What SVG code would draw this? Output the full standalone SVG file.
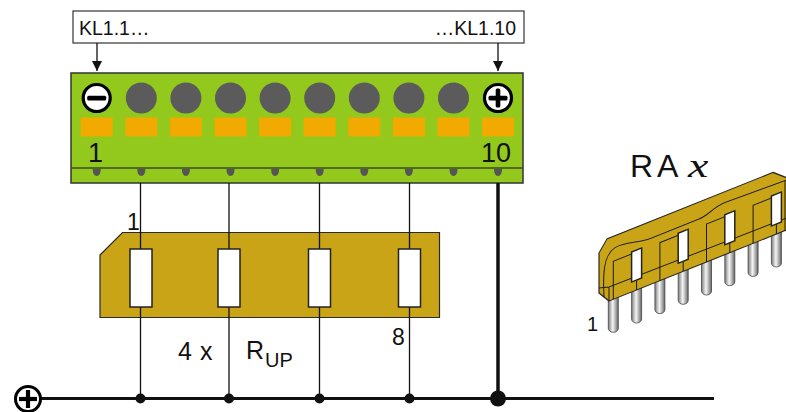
<svg xmlns="http://www.w3.org/2000/svg" width="786" height="412" viewBox="0 0 786 412">
  <style>
    .lbl { font-family: "Liberation Sans", Arial, sans-serif; fill: #111; }
    .wire { stroke: #111; stroke-width: 1.3; fill: none; }
    .hole { fill: #5b5b5b; }
    .spring { fill: #f2a900; }
    .drop { fill: #555; }
    .res { fill: #fff; stroke: #222; stroke-width: 1.5; }
    .gold { fill: #c8a416; stroke: #2a2a2a; stroke-width: 1.2; }
    .pin { fill: url(#pinGrad); stroke: #444; stroke-width: 0.8; }
    .thin { fill: none; stroke: #1a1a1a; stroke-width: 1; }
  </style>
  <defs>
    <marker id="arr" viewBox="0 0 10 10" refX="10" refY="5" markerWidth="10" markerHeight="10" markerUnits="userSpaceOnUse" orient="auto">
      <path d="M0,0 L10,5 L0,10 Z" fill="#111"/>
    </marker>
    <linearGradient id="pinGrad" x1="0" y1="0" x2="1" y2="0">
      <stop offset="0" stop-color="#7c7c7c"/>
      <stop offset="0.45" stop-color="#f6f6f6"/>
      <stop offset="1" stop-color="#666"/>
    </linearGradient>
  </defs>

  <!-- terminal designation label -->
  <g id="label-box">
    <rect x="73" y="11" width="451" height="32" fill="#fff" stroke="#333" stroke-width="1.2"/>
    <text class="lbl" x="79" y="35" font-size="19.5">KL1.1…</text>
    <text class="lbl" x="516" y="35" font-size="19.5" text-anchor="end">…KL1.10</text>
  </g>

  <!-- terminal block KL1 -->
  <g id="terminal-block">
    <rect x="71" y="73" width="452" height="110" fill="#93c91c" stroke="#333" stroke-width="1.5"/>
    <line x1="71" y1="168" x2="523" y2="168" stroke="#3b4a22" stroke-width="1.5"/>
    <!-- wire entry holes -->
    <circle class="hole" cx="141.3" cy="98" r="15.5"/>
    <circle class="hole" cx="185.9" cy="98" r="15.5"/>
    <circle class="hole" cx="230.5" cy="98" r="15.5"/>
    <circle class="hole" cx="275.1" cy="98" r="15.5"/>
    <circle class="hole" cx="319.7" cy="98" r="15.5"/>
    <circle class="hole" cx="364.3" cy="98" r="15.5"/>
    <circle class="hole" cx="408.9" cy="98" r="15.5"/>
    <circle class="hole" cx="453.5" cy="98" r="15.5"/>
    <!-- minus and plus terminals -->
    <circle cx="96.7" cy="98" r="13.5" fill="#fff" stroke="#000" stroke-width="3.2"/>
    <rect x="87.2" y="95.8" width="19" height="4.6" rx="1.5" fill="#000"/>
    <circle cx="498" cy="98" r="13.5" fill="#fff" stroke="#000" stroke-width="3.2"/>
    <rect x="488.5" y="95.8" width="19" height="4.6" rx="1.5" fill="#000"/>
    <rect x="495.7" y="88.5" width="4.6" height="19" rx="1.5" fill="#000"/>
    <!-- spring releases -->
    <rect class="spring" x="80.7" y="117.5" width="32" height="19"/>
    <rect class="spring" x="125.3" y="117.5" width="32" height="19"/>
    <rect class="spring" x="169.9" y="117.5" width="32" height="19"/>
    <rect class="spring" x="214.5" y="117.5" width="32" height="19"/>
    <rect class="spring" x="259.1" y="117.5" width="32" height="19"/>
    <rect class="spring" x="303.7" y="117.5" width="32" height="19"/>
    <rect class="spring" x="348.3" y="117.5" width="32" height="19"/>
    <rect class="spring" x="392.9" y="117.5" width="32" height="19"/>
    <rect class="spring" x="437.5" y="117.5" width="32" height="19"/>
    <rect class="spring" x="482" y="117.5" width="32" height="19"/>
    <text class="lbl" x="88" y="162" font-size="27">1</text>
    <text class="lbl" x="511" y="162" font-size="27" text-anchor="end">10</text>
    <!-- contact tips -->
    <path class="drop" d="M92.7,169 Q92.7,176 96.7,176 Q100.7,176 100.7,169 Z"/>
    <path class="drop" d="M137.3,169 Q137.3,176 141.3,176 Q145.3,176 145.3,169 Z"/>
    <path class="drop" d="M181.9,169 Q181.9,176 185.9,176 Q189.9,176 189.9,169 Z"/>
    <path class="drop" d="M226.5,169 Q226.5,176 230.5,176 Q234.5,176 234.5,169 Z"/>
    <path class="drop" d="M271.1,169 Q271.1,176 275.1,176 Q279.1,176 279.1,169 Z"/>
    <path class="drop" d="M315.7,169 Q315.7,176 319.7,176 Q323.7,176 323.7,169 Z"/>
    <path class="drop" d="M360.3,169 Q360.3,176 364.3,176 Q368.3,176 368.3,169 Z"/>
    <path class="drop" d="M404.9,169 Q404.9,176 408.9,176 Q412.9,176 412.9,169 Z"/>
    <path class="drop" d="M449.5,169 Q449.5,176 453.5,176 Q457.5,176 457.5,169 Z"/>
    <path class="drop" d="M494,169 Q494,176 498,176 Q502,176 502,169 Z"/>
  </g>

  <!-- pull-up resistor network, schematic view -->
  <g id="resistor-network">
    <path class="gold" d="M100,255 L122.5,232.5 L439.5,232.5 L439.5,317.5 L100,317.5 Z"/>
  </g>

  <!-- connectors -->
  <g id="connectors">
    <line x1="97" y1="43" x2="97" y2="71" stroke="#111" stroke-width="1.3" marker-end="url(#arr)"/>
    <line x1="498" y1="43" x2="498" y2="71" stroke="#111" stroke-width="1.3" marker-end="url(#arr)"/>
    <line class="wire" x1="140.5" y1="183" x2="140.5" y2="398"/>
    <line class="wire" x1="229" y1="183" x2="229" y2="398"/>
    <line class="wire" x1="319.5" y1="183" x2="319.5" y2="398"/>
    <line class="wire" x1="409.5" y1="183" x2="409.5" y2="398"/>
    <line x1="498" y1="183" x2="498" y2="398" stroke="#111" stroke-width="3.5"/>
    <line x1="41" y1="398.5" x2="714" y2="398.5" stroke="#111" stroke-width="3.2"/>
    <circle cx="140.5" cy="398.5" r="5" fill="#111"/>
    <circle cx="229" cy="398.5" r="5" fill="#111"/>
    <circle cx="319.5" cy="398.5" r="5" fill="#111"/>
    <circle cx="409.5" cy="398.5" r="5" fill="#111"/>
    <circle cx="498" cy="398.5" r="8" fill="#111"/>
  </g>

  <g id="resistors">
    <rect class="res" x="130" y="249" width="22" height="58"/>
    <rect class="res" x="218" y="249" width="22" height="58"/>
    <rect class="res" x="308.5" y="249" width="22" height="58"/>
    <rect class="res" x="398.5" y="249" width="22" height="58"/>
    <text class="lbl" x="127" y="230" font-size="23">1</text>
    <text class="lbl" x="392" y="345" font-size="23">8</text>
    <text class="lbl" x="178" y="360" font-size="25">4</text>
    <text class="lbl" x="200" y="360" font-size="25">x</text>
    <text class="lbl" x="246" y="359" font-size="25">R</text>
    <text class="lbl" x="265" y="367" font-size="20">UP</text>
  </g>

  <!-- supply symbol -->
  <g id="supply-plus">
    <circle cx="28" cy="399" r="12.5" fill="#fff" stroke="#000" stroke-width="3"/>
    <line x1="19" y1="399" x2="37" y2="399" stroke="#000" stroke-width="4.2"/>
    <line x1="28" y1="390" x2="28" y2="408" stroke="#000" stroke-width="4.2"/>
  </g>

  <!-- RAx: SIP resistor network, perspective view -->
  <g id="rax-part">
    <text x="630" y="177" font-family="Liberation Sans, Arial, sans-serif" font-size="32" fill="#111">R</text>
    <text x="657" y="177" font-family="Liberation Sans, Arial, sans-serif" font-size="32" fill="#111">A</text>
    <text transform="translate(688 177) scale(1.35 1)" font-family="Liberation Serif, serif" font-style="italic" font-size="34" fill="#111">x</text>
    <text class="lbl" x="587" y="331" font-size="20">1</text>
    <!-- pins -->
    <path class="pin" d="M608.3,294 V328.3 A5,4 0 0 0 618.3,328.3 V294 Z"/>
    <path class="pin" d="M631.6,285 V319 A5,4 0 0 0 641.6,319 V285 Z"/>
    <path class="pin" d="M654.9,275.6 V309.6 A5,4 0 0 0 664.9,309.6 V275.6 Z"/>
    <path class="pin" d="M678.2,266.3 V300.3 A5,4 0 0 0 688.2,300.3 V266.3 Z"/>
    <path class="pin" d="M701.5,257 V291 A5,4 0 0 0 711.5,291 V257 Z"/>
    <path class="pin" d="M724.8,247.7 V281.7 A5,4 0 0 0 734.8,281.7 V247.7 Z"/>
    <path class="pin" d="M748.1,238.4 V272.4 A5,4 0 0 0 758.1,272.4 V238.4 Z"/>
    <path class="pin" d="M771.4,229 V263 A5,4 0 0 0 781.4,263 V229 Z"/>
    <!-- moulded body, drawn in its own skewed frame -->
    <g transform="translate(609 301) skewY(-21.8)">
      <path class="gold" stroke-linejoin="round" d="M-2,-63 L164,-63 L178,-52 L178,0 L0,0 L-10,-12 L-10,-52 Z"/>
      <path class="thin" d="M-5,-6 C-6,-28 -6,-48 6,-51 C18,-53 28,-46 42,-46 L90,-46 C100,-46 104,-52 116,-52 L178,-50"/>
      <path class="thin" d="M-10,-17 L0,-14 L178,-12 M0,-14 V0 M176,-50 V0"/>
      <!-- internal tracks -->
      <path class="thin" d="M4.3,0 V-38 H27.6 M27.6,-10 V0"/>
      <path class="thin" d="M50.9,0 V-38 H74.2 M74.2,-10 V0"/>
      <path class="thin" d="M97.5,0 V-38 H120.8 M120.8,-10 V0"/>
      <path class="thin" d="M144.1,0 V-38 H167.4 M167.4,-10 V0"/>
      <rect class="res" stroke-width="1" x="22.6" y="-40" width="10" height="30"/>
      <rect class="res" stroke-width="1" x="69.2" y="-40" width="10" height="30"/>
      <rect class="res" stroke-width="1" x="115.8" y="-40" width="10" height="30"/>
      <rect class="res" stroke-width="1" x="162.4" y="-40" width="10" height="30"/>
    </g>
  </g>
</svg>
